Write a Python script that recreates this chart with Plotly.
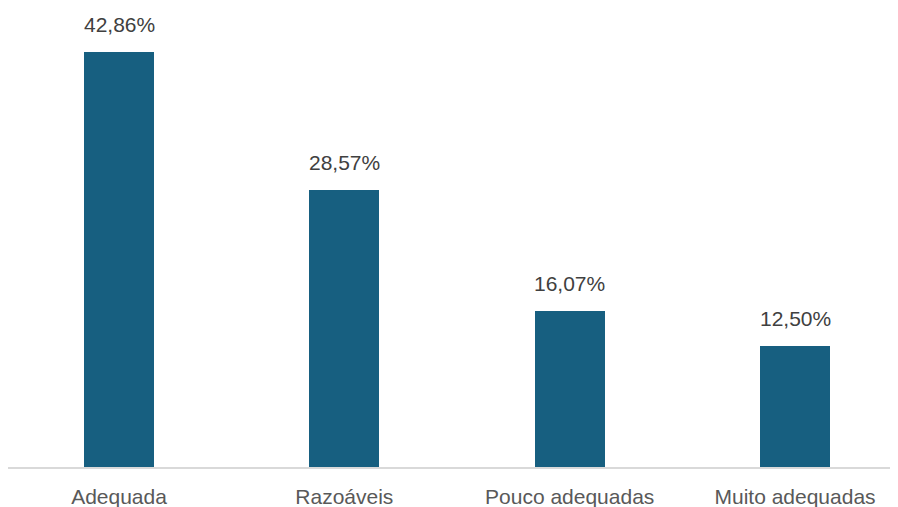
import plotly.graph_objects as go

categories = ["Adequada", "Razoáveis", "Pouco adequadas", "Muito adequadas"]
values = [42.86, 28.57, 16.07, 12.50]
labels = [f"{v:.2f}%".replace(".", ",") for v in values]

fig = go.Figure()
fig.add_trace(go.Bar(
    x=categories, y=values,
    marker=dict(color="#175F80", line=dict(width=0)),
    width=0.31,
    hoverinfo="skip",
))
for c, v, t in zip(categories, values, labels):
    fig.add_annotation(x=c, y=v, text=t, showarrow=False, yanchor="bottom",
                       yshift=14, font=dict(family="Liberation Sans", size=21, color="#404040"))

fig.update_layout(
    width=890, height=499,
    margin=dict(l=0, r=0, t=0, b=40),
    paper_bgcolor="white", plot_bgcolor="white",
    showlegend=False,
    bargap=0,
    xaxis=dict(
        range=[-0.4926, 3.457],
        showline=True, linecolor="#D9D9D9", linewidth=1.5,
        ticks="", showgrid=False, zeroline=False,
        tickfont=dict(family="Liberation Sans", size=21, color="#595959"),
        ticklabelstandoff=10,
        automargin=False,
    ),
    yaxis=dict(range=[0, 47.40], visible=False, showgrid=False, zeroline=False),
)
fig.write_html("out.html")
